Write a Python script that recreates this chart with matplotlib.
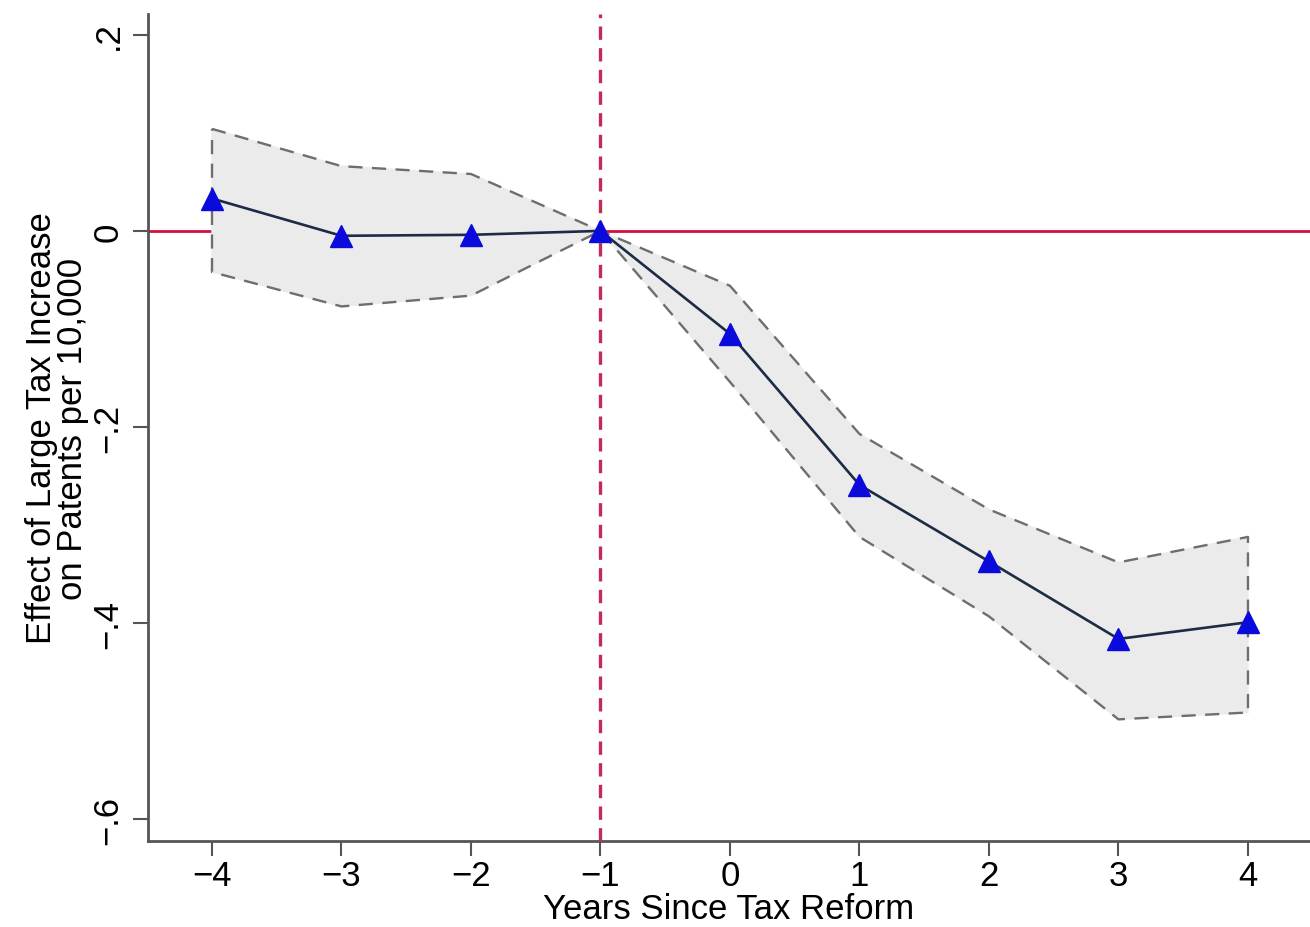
import numpy as np
import matplotlib
matplotlib.use("Agg")
from matplotlib import pyplot as plt

plt.rcParams['font.family'] = ['Liberation Sans', 'DejaVu Sans']

# event-time coefficients and 95% bands
years = [-4, -3, -2, -1, 0, 1, 2, 3, 4]
coef = [0.033, -0.005, -0.004, 0.0, -0.105, -0.259, -0.337, -0.416, -0.399]
upper = [0.104, 0.066, 0.058, 0.0, -0.056, -0.207, -0.284, -0.338, -0.312]
lower = [-0.042, -0.077, -0.066, 0.0, -0.154, -0.312, -0.393, -0.498, -0.491]

yticks = [0.2, 0, -0.2, -0.4, -0.6]
ylabels = ['.2', '0', '\u2212.2', '\u2212.4', '\u2212.6']
xlabels = ['\u22124', '\u22123', '\u22122', '\u22121', '0', '1', '2', '3', '4']

fig = plt.figure(figsize=(13.1, 9.28), dpi=100)
ax = fig.add_axes([0.113, 0.0927, 0.887, 0.891])

ax.axhline(0, color='#d4103c', lw=2.0, zorder=1)
ax.axvline(-1, color='#c42a55', lw=2.4, ls=(0, (4, 2.5)), zorder=4)

# shaded confidence band with dashed outline
xs = np.array(years, dtype=float)
poly_x = np.concatenate([xs, xs[::-1], xs[:1]])
poly_y = np.concatenate([upper, lower[::-1], upper[:1]])
ax.fill(poly_x, poly_y, color='#ebebeb', zorder=2)
ax.plot(poly_x, poly_y, color='#6e6e6e', lw=1.7, ls=(0, (6, 4)), zorder=3)

ax.plot(years, coef, color='#1e2b45', lw=1.9, zorder=5)
ax.plot(years, coef, ls='none', marker='^', ms=16, color='#0a0adc', zorder=6)

ax.set_xlim(-4.494, 4.479)
ax.set_ylim(-0.622, 0.221)
ax.set_xticks(years)
ax.set_xticklabels(xlabels)
ax.set_yticks(yticks)
ax.set_yticklabels(ylabels, rotation=90, va='center')
ax.tick_params(axis='both', length=11, width=1.5, color='#555555', labelsize=25, pad=2)
ax.tick_params(axis='y', pad=6)

for s in ['top', 'right']:
    ax.spines[s].set_visible(False)
for s in ['left', 'bottom']:
    ax.spines[s].set_color('#555555')
    ax.spines[s].set_linewidth(2)

ax.set_xlabel('Years Since Tax Reform', fontsize=25, labelpad=0)
ax.set_ylabel('Effect of Large Tax Increase\non Patents per 10,000', fontsize=25,
              labelpad=2, linespacing=0.9)

fig.savefig('out.png', dpi=100)
